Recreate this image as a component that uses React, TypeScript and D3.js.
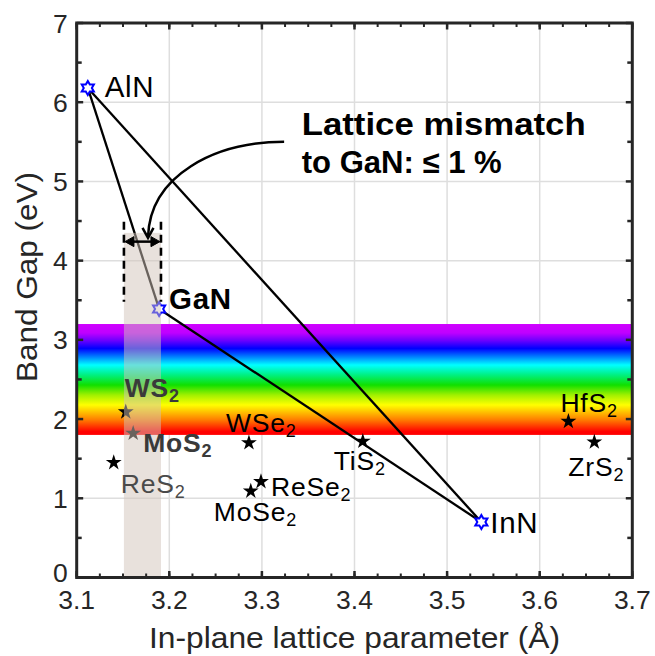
import * as d3 from "d3";

// nitrides (hexagram markers)
const nitrides = ["AlN", "GaN", "InN"];
const nitrideA = [3.112, 3.189, 3.537];
const nitrideGap = [6.18, 3.39, 0.7];

// 2D materials (pentagram markers)
const tmds = ["WS2", "MoS2", "ReS2", "WSe2", "ReSe2", "MoSe2", "TiS2", "HfS2", "ZrS2"];
const tmdA = [3.153, 3.161, 3.14, 3.286, 3.299, 3.288, 3.409, 3.631, 3.659];
const tmdGap = [2.09, 1.82, 1.45, 1.7, 1.21, 1.09, 1.72, 1.97, 1.71];

const xTicks = [3.1, 3.2, 3.3, 3.4, 3.5, 3.6, 3.7];
const yTicks = [0, 1, 2, 3, 4, 5, 6, 7];

const visibleBand = [1.8, 3.2]; // eV
const mismatchA = [3.151, 3.191];

// label placement (px offsets from marker)
const tmdLabelDx = [-1, 10, 7, -23, 10, -37, -29, -8, -26];
const tmdLabelDy = [-15, 19, 30, -11, 14, 30, 29, -9, 34];
const tmdBold = [true, true, false, false, false, false, false, false, false];
const tmdFill = ["#3a3a3a", "#3a3a3a", "#4a4a4a", "#000", "#000", "#000", "#000", "#000", "#000"];
const nitrideLabelDx = [17, 10, 9];
const nitrideLabelDy = [9, 0, 11];

const FONT = "'Liberation Sans', Arial, Helvetica, sans-serif";
const AX = "#262626";

const left = 76.7, right = 632.3, top = 23, bottom = 577.5;

function Chem({ name, x, y, size, bold, fill, ls }: any) {
  const m = name.match(/^(.*?)(\d)$/);
  return (
    <text x={x} y={y} fontSize={size} fontWeight={bold ? "bold" : "normal"} fill={fill} letterSpacing={ls}>
      {m ? m[1] : name}
      {m && <tspan dy={5} fontSize={size * 0.68}>{m[2]}</tspan>}
    </text>
  );
}

function hexagram(R: number) {
  const pts: [number, number][] = [];
  for (let i = 0; i < 12; i++) {
    const a = ((-90 + i * 30) * Math.PI) / 180;
    const r = i % 2 === 0 ? R : R / Math.sqrt(3);
    pts.push([r * Math.cos(a), r * Math.sin(a)]);
  }
  return "M" + pts.map((p) => p.join(",")).join("L") + "Z";
}

export default function App() {
  const x = d3.scaleLinear([3.1, 3.7], [left, right]);
  const y = d3.scaleLinear([0, 7], [bottom, top]);
  const star = d3.symbol().type(d3.symbolStar).size(78)()!;
  const hex = hexagram(7);

  const xMinor = d3.range(3.1, 3.7001, 0.025);
  const yMinor = d3.range(0, 7.001, 0.5);

  // triangle edges AlN-GaN, GaN-InN, AlN-InN
  const edges = [[0, 1], [1, 2], [0, 2]];

  // annotation curve in data coordinates
  const curve = [[3.324, 5.5], [3.2494, 5.5], [3.1792, 5.08], [3.177, 4.3]];
  const cp = curve.map(([a, b]) => [x(a), y(b)]);
  const tip = cp[3];
  const arrowY = y(4.24);

  return (
    <svg width={655} height={656} style={{ position: "absolute", left: 0, top: 0, fontFamily: FONT }}>
      <defs>
        <linearGradient id="rainbow" x1="0" y1="0" x2="0" y2="1">
          <stop offset="0" stopColor="#d000ff" />
          <stop offset="0.08" stopColor="#c000ff" />
          <stop offset="0.15" stopColor="#6a00ff" />
          <stop offset="0.22" stopColor="#0000ff" />
          <stop offset="0.30" stopColor="#0088ff" />
          <stop offset="0.37" stopColor="#00ffff" />
          <stop offset="0.46" stopColor="#00f080" />
          <stop offset="0.55" stopColor="#10e000" />
          <stop offset="0.64" stopColor="#a0f000" />
          <stop offset="0.73" stopColor="#ffff00" />
          <stop offset="0.86" stopColor="#ff8000" />
          <stop offset="0.97" stopColor="#ff0000" />
          <stop offset="1" stopColor="#ff0000" />
        </linearGradient>
      </defs>
      <rect width={655} height={656} fill="#fff" />

      {/* grid */}
      <g stroke="#dedede" strokeWidth={1.5}>
        {xTicks.map((t) => <line key={"gx" + t} x1={x(t)} x2={x(t)} y1={top} y2={bottom} />)}
        {yTicks.map((t) => <line key={"gy" + t} x1={left} x2={right} y1={y(t)} y2={y(t)} />)}
      </g>

      {/* visible spectrum band */}
      <rect x={left} width={right - left} y={y(visibleBand[1])} height={y(visibleBand[0]) - y(visibleBand[1])} fill="url(#rainbow)" />

      {/* nitride triangle */}
      <g stroke="#000" strokeWidth={2.3}>
        {edges.map(([i, j]) => (
          <line key={i + "-" + j} x1={x(nitrideA[i])} y1={y(nitrideGap[i])} x2={x(nitrideA[j])} y2={y(nitrideGap[j])} />
        ))}
      </g>

      {tmds.map((n, i) => (
        <path key={n} d={star} transform={`translate(${x(tmdA[i])},${y(tmdGap[i])})`} fill="#000" />
      ))}
      {nitrides.map((n, i) => (
        <path key={n} d={hex} transform={`translate(${x(nitrideA[i])},${y(nitrideGap[i])})`} fill="#fff" stroke="#0000ff" strokeWidth={2} />
      ))}

      {/* lattice-mismatch window */}
      <rect x={x(mismatchA[0])} width={x(mismatchA[1]) - x(mismatchA[0])} y={y(4.35)} height={y(0) - y(4.35)} fill="#d1c3b9" opacity={0.5} />
      <g stroke="#000" strokeWidth={2.6} strokeDasharray="8,5">
        <line x1={x(mismatchA[0])} x2={x(mismatchA[0])} y1={y(4.49)} y2={y(3.48)} />
        <line x1={x(mismatchA[1])} x2={x(mismatchA[1])} y1={y(4.49)} y2={y(3.48)} />
      </g>
      <g fill="#000" stroke="#000">
        <line x1={x(mismatchA[0]) + 4} x2={x(mismatchA[1]) - 4} y1={arrowY} y2={arrowY} strokeWidth={2.5} />
        <path d={`M${x(mismatchA[0]) + 1},${arrowY}l9,-5l0,10z`} strokeWidth={1} />
        <path d={`M${x(mismatchA[1]) - 1},${arrowY}l-9,-5l0,10z`} strokeWidth={1} />
      </g>
      <path d={`M${cp[0]}C${cp[1]} ${cp[2]} ${cp[3]}`} fill="none" stroke="#000" strokeWidth={2.5} />
      <path d={`M${tip[0] - 5.5},${tip[1] - 9}L${tip[0]},${tip[1] + 1}L${tip[0] + 5.5},${tip[1] - 9}`} fill="none" stroke="#000" strokeWidth={2.5} />

      <g fontWeight="bold" fontSize={31} fill="#000">
        <text x={x(3.343)} y={y(5.587)} textLength={284} lengthAdjust="spacingAndGlyphs">Lattice mismatch</text>
        <text x={x(3.343)} y={y(5.107)} textLength={200} lengthAdjust="spacingAndGlyphs">to GaN: ≤ 1 %</text>
      </g>

      {/* labels */}
      {tmds.map((n, i) => (
        <Chem key={n} name={n} x={x(tmdA[i]) + tmdLabelDx[i]} y={y(tmdGap[i]) + tmdLabelDy[i]} size={26.5} bold={tmdBold[i]} fill={tmdFill[i]} ls={0.8} />
      ))}
      {nitrides.map((n, i) => (
        <Chem key={n} name={n} x={x(nitrideA[i]) + nitrideLabelDx[i]} y={y(nitrideGap[i]) + nitrideLabelDy[i]} size={29.5} bold={n === "GaN"} fill="#000" ls={0.6} />
      ))}

      {/* axes box and inward ticks */}
      <g stroke={AX}>
        {xMinor.map((t) => (
          <g key={"xm" + t} strokeWidth={2}>
            <line x1={x(t)} x2={x(t)} y1={bottom} y2={bottom - 4} />
            <line x1={x(t)} x2={x(t)} y1={top} y2={top + 4} />
          </g>
        ))}
        {xTicks.map((t) => (
          <g key={"xM" + t} strokeWidth={2.5}>
            <line x1={x(t)} x2={x(t)} y1={bottom} y2={bottom - 6.5} />
            <line x1={x(t)} x2={x(t)} y1={top} y2={top + 6.5} />
          </g>
        ))}
        {yMinor.map((t) => (
          <g key={"ym" + t} strokeWidth={2.5}>
            <line x1={left} x2={left + (t % 1 ? 5 : 6.5)} y1={y(t)} y2={y(t)} />
            <line x1={right} x2={right - (t % 1 ? 5 : 6.5)} y1={y(t)} y2={y(t)} />
          </g>
        ))}
        <rect x={left} y={top} width={right - left} height={bottom - top} fill="none" strokeWidth={3} />
      </g>

      <g fill={AX} fontSize={26.5}>
        {yTicks.map((t) => (
          <text key={"yl" + t} x={left - 9} y={y(t) - (t === 0 ? 5 : 0)} dy="0.36em" textAnchor="end">{t}</text>
        ))}
        {xTicks.map((t) => (
          <text key={"xl" + t} x={x(t)} y={609} textAnchor="middle">{d3.format(".1f")(t)}</text>
        ))}
      </g>
      <text x={(left + right) / 2} y={648} fontSize={29} fill={AX} textAnchor="middle" textLength={411} lengthAdjust="spacingAndGlyphs">
        In-plane lattice parameter (Å)
      </text>
      <text transform={`translate(37,${277}) rotate(-90)`} fontSize={30} fill={AX} textAnchor="middle" textLength={210} lengthAdjust="spacingAndGlyphs">
        Band Gap (eV)
      </text>
    </svg>
  );
}
